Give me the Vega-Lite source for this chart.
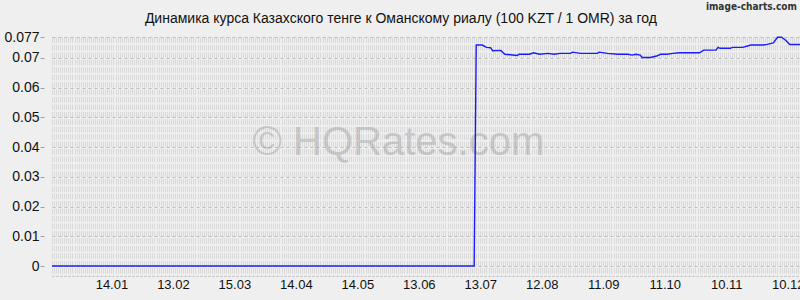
{
  "$schema": "https://vega.github.io/schema/vega-lite/v6.json",
  "width": 748,
  "height": 239,
  "autosize": "none",
  "padding": {"left": 52, "top": 37, "right": 0, "bottom": 24},
  "background": "#efefef",
  "config": {
    "view": {"stroke": null},
    "font": "Liberation Sans"
  },
  "datasets": {
    "rate": [
      {"date": "2024-12-16", "value": 0},
      {"date": "2025-07-10", "value": 0},
      {"date": "2025-07-11", "value": 0.0743},
      {"date": "2025-07-14", "value": 0.0743},
      {"date": "2025-07-16", "value": 0.0735},
      {"date": "2025-07-18", "value": 0.0734},
      {"date": "2025-07-19", "value": 0.0724},
      {"date": "2025-07-23", "value": 0.0725},
      {"date": "2025-07-25", "value": 0.0712},
      {"date": "2025-07-31", "value": 0.0708},
      {"date": "2025-08-01", "value": 0.0712},
      {"date": "2025-08-06", "value": 0.0712},
      {"date": "2025-08-08", "value": 0.0717},
      {"date": "2025-08-11", "value": 0.0712},
      {"date": "2025-08-15", "value": 0.0715},
      {"date": "2025-08-18", "value": 0.0712},
      {"date": "2025-08-21", "value": 0.0715},
      {"date": "2025-08-26", "value": 0.0715},
      {"date": "2025-08-27", "value": 0.0719},
      {"date": "2025-08-31", "value": 0.0715},
      {"date": "2025-09-08", "value": 0.0715},
      {"date": "2025-09-09", "value": 0.0719},
      {"date": "2025-09-13", "value": 0.0715},
      {"date": "2025-09-18", "value": 0.0712},
      {"date": "2025-09-23", "value": 0.0712},
      {"date": "2025-09-25", "value": 0.0709},
      {"date": "2025-09-27", "value": 0.0712},
      {"date": "2025-09-29", "value": 0.0709},
      {"date": "2025-09-30", "value": 0.0701},
      {"date": "2025-10-04", "value": 0.0701},
      {"date": "2025-10-07", "value": 0.0706},
      {"date": "2025-10-09", "value": 0.0712},
      {"date": "2025-10-12", "value": 0.0712},
      {"date": "2025-10-15", "value": 0.0715},
      {"date": "2025-10-18", "value": 0.0717},
      {"date": "2025-10-28", "value": 0.0717},
      {"date": "2025-10-30", "value": 0.0726},
      {"date": "2025-11-05", "value": 0.0726},
      {"date": "2025-11-06", "value": 0.0735},
      {"date": "2025-11-07", "value": 0.0732},
      {"date": "2025-11-12", "value": 0.0732},
      {"date": "2025-11-13", "value": 0.0735},
      {"date": "2025-11-18", "value": 0.0735},
      {"date": "2025-11-22", "value": 0.0743},
      {"date": "2025-11-28", "value": 0.0743},
      {"date": "2025-11-30", "value": 0.0745},
      {"date": "2025-12-03", "value": 0.0750},
      {"date": "2025-12-05", "value": 0.0769},
      {"date": "2025-12-07", "value": 0.0769},
      {"date": "2025-12-09", "value": 0.0759},
      {"date": "2025-12-11", "value": 0.0745},
      {"date": "2025-12-15", "value": 0.0745},
      {"date": "2025-12-16", "value": 0.0745}
    ],
    "marks": [
      {"date": "2025-06-03", "value": 0.0373, "label": "© HQRates.com", "kind": "watermark"},
      {"date": "2025-12-14T12:00:00Z", "value": 0.0870, "label": "image-charts.com", "kind": "credit"},
      {"date": "2025-06-04T06:00:00Z", "value": 0.0816, "label": "Динамика курса Казахского тенге к Оманскому риалу (100 KZT / 1 OMR) за год", "kind": "title"}
    ]
  },
  "encoding": {
    "x": {
      "field": "date",
      "type": "temporal",
      "title": null,
      "scale": {"type": "utc", "domain": [{"year": 2024, "month": 12, "date": 16, "utc": true}, {"year": 2025, "month": 12, "date": 16, "utc": true}], "nice": false},
      "axis": {
        "tickCount": {"interval": "day", "step": 1},
        "grid": true,
        "gridColor": "#d9d9d9",
        "gridWidth": 1,
        "gridDash": [5.6, 1.84],
        "gridDashOffset": 0,
        "ticks": false,
        "domain": true,
        "domainColor": "#c4c4c4",
        "domainDash": [2, 2],
        "labelOverlap": false,
        "labelFlush": false,
        "labelBound": false,
        "labelExpr": "indexof(['14.01','13.02','15.03','14.04','14.05','13.06','13.07','12.08','11.09','11.10','10.11','10.12'], utcFormat(datum.value, '%d.%m')) >= 0 ? utcFormat(datum.value, '%d.%m') : ''",
        "labelFontSize": 13,
        "labelColor": "#111111",
        "labelPadding": 2,
        "labelFont": "Liberation Sans"
      }
    },
    "y": {
      "field": "value",
      "type": "quantitative",
      "title": null,
      "scale": {"domain": [-0.00336, 0.077], "nice": false, "zero": false},
      "axis": {
        "values": [0, 0.01, 0.02, 0.03, 0.04, 0.05, 0.06, 0.07, 0.077],
        "labelExpr": "format(datum.value, '~g')",
        "labelOverlap": false,
        "labelBound": false,
        "grid": true,
        "gridColor": "#bdbdbd",
        "gridDash": [3, 3],
        "domain": false,
        "ticks": true,
        "tickColor": "#a0a0a0",
        "tickSize": 4,
        "offset": 8,
        "labelFontSize": 14,
        "labelColor": "#111111",
        "labelPadding": 1,
        "labelFont": "Liberation Sans"
      }
    }
  },
  "layer": [
    {
      "data": {"name": "marks"},
      "transform": [{"filter": "datum.kind === 'watermark'"}],
      "mark": {"type": "text", "fontSize": 40, "font": "Liberation Sans", "color": "#9a9a9a", "opacity": 0.42, "align": "center", "baseline": "alphabetic"},
      "encoding": {"text": {"field": "label"}}
    },
    {
      "data": {"name": "rate"},
      "mark": {"type": "line", "color": "#1a1aff", "strokeWidth": 1.4, "interpolate": "linear"},
      "encoding": {}
    },
    {
      "data": {"name": "marks"},
      "transform": [{"filter": "datum.kind === 'credit'"}],
      "mark": {"type": "text", "fontSize": 10, "font": "DejaVu Sans Condensed", "fontWeight": "bold", "color": "#333333", "align": "right", "baseline": "middle"},
      "encoding": {"text": {"field": "label"}}
    },
    {
      "data": {"name": "marks"},
      "transform": [{"filter": "datum.kind === 'title'"}],
      "mark": {"type": "text", "fontSize": 14, "font": "Liberation Sans", "color": "#111111", "align": "center", "baseline": "alphabetic"},
      "encoding": {"text": {"field": "label"}}
    }
  ]
}
